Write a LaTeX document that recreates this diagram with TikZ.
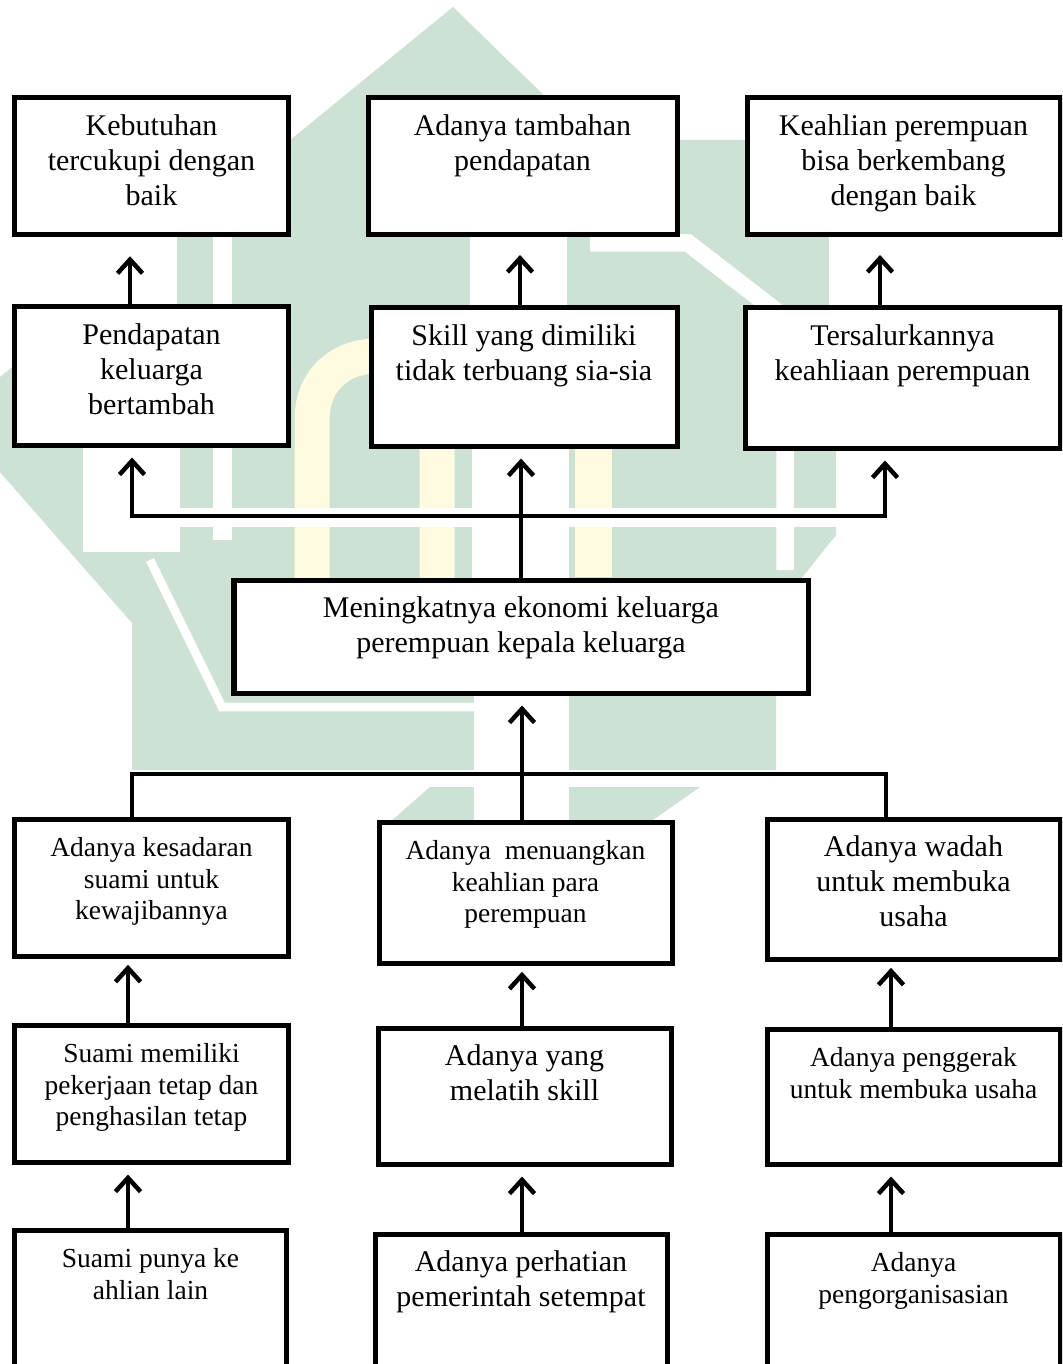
\documentclass[tikz,border=0pt]{standalone}
\usepackage{fontspec}
\setmainfont{Liberation Serif}
\usetikzlibrary{arrows.meta}
\definecolor{wmgreen}{RGB}{205,225,213}
\definecolor{wmyellow}{RGB}{255,251,224}
\newcommand{\isi}[3]{\parbox[c][#2][t]{#1}{\centering\rule{0pt}{15pt}#3}}

\begin{document}
\begin{tikzpicture}[
    x=0.4pt, y=-0.4pt,
    treebox/.style={draw, line width=2pt, fill=white, inner sep=0pt,
        font=\fontsize{12}{14}\selectfont},
    treeboxs/.style={treebox, font=\fontsize{11}{12.6}\selectfont},
    uparrow/.style={line width=1.8pt, -{Straight Barb[length=5.5pt,width=10pt]},
        shorten >=4pt},
    joint/.style={line width=1.8pt}
]
\useasboundingbox (0,0) rectangle (1062,1364);
\clip (0,0) rectangle (1062,1364);
\fill[white] (0,0) rectangle (1062,1364);

% watermark
\fill[wmgreen] (453,7) -- (590,140) -- (836,140) -- (836,535) -- (776,610)
    -- (776,770) -- (132,770) -- (132,623) -- (0,472) -- (0,377) -- cycle;
\fill[wmgreen] (430,787) -- (700,787) -- (650,822) -- (390,822) -- cycle;
\draw[white, line width=7.6pt] (222,233) -- (222,540);
\draw[white, line width=7pt] (590,243) -- (688,243) -- (785,318) -- (785,570);
\draw[white, line width=3.5pt] (150,560) -- (222,707) -- (474,707);
\draw[wmyellow, line width=14pt] (312,578) -- (312,420)
    .. controls (312,335) and (437,335) .. (437,420) -- (437,578);
\fill[wmyellow] (575,447) rectangle (612,577);

% white behind the arrows
\fill[white] (81,235) rectangle (177,307);
\fill[white] (470,235) rectangle (567,308);
\fill[white] (829,235) rectangle (924,308);
\fill[white] (83,445) rectangle (180,552);
\fill[white] (83,508) rectangle (900,527);
\fill[white] (472,446) rectangle (569,580);
\fill[white] (474,693) rectangle (569,822);
\fill[white] (132,770) rectangle (776,787);

% top rows
\node[treebox] (A1) at (151.5,166.5) {\isi{109.2pt}{54.8pt}{Kebutuhan\\tercukupi dengan\\baik}};
\node[treebox] (A2) at (522.5,166.5) {\isi{123.6pt}{54.8pt}{Adanya tambahan\\pendapatan}};
\node[treebox] (A3) at (903.5,166.5) {\isi{125.2pt}{54.8pt}{Keahlian perempuan\\bisa berkembang\\dengan baik}};
\node[treebox] (B1) at (151.5,376) {\isi{109.2pt}{55.2pt}{Pendapatan\\keluarga\\bertambah}};
\node[treebox] (B2) at (524,377) {\isi{122.4pt}{55.2pt}{Skill yang dimiliki\\tidak terbuang sia-sia}};
\node[treebox] (B3) at (902.5,378) {\isi{126pt}{56pt}{Tersalurkannya\\keahliaan perempuan}};

% centre
\node[treebox] (C) at (521,636.5) {\isi{229.6pt}{45.2pt}{Meningkatnya ekonomi keluarga\\perempuan kepala keluarga}};

% bottom rows
\node[treeboxs] (D1) at (151.5,887.5) {\isi{109.2pt}{54.8pt}{Adanya kesadaran\\suami untuk\\kewajibannya}};
\node[treeboxs] (D2) at (525.5,892.5) {\isi{117.2pt}{56.4pt}{Adanya~ menuangkan\\keahlian para\\perempuan}};
\node[treebox] (D3) at (913.5,889) {\isi{117.2pt}{56pt}{Adanya wadah\\untuk membuka\\usaha}};
\node[treeboxs] (E1) at (151.5,1093.5) {\isi{109.2pt}{54.8pt}{Suami memiliki\\pekerjaan tetap dan\\penghasilan tetap}};
\node[treebox] (E2) at (524.5,1096) {\isi{117.2pt}{54.4pt}{Adanya yang\\melatih skill}};
\node[treeboxs] (E3) at (913.5,1096.5) {\isi{117.2pt}{54pt}{Adanya penggerak\\untuk membuka usaha}};
\node[treeboxs] (F1) at (150.5,1298.5) {\isi{108.4pt}{54.8pt}{Suami punya ke\\ahlian lain}};
\node[treebox] (F2) at (521,1302.5) {\isi{116.8pt}{54.8pt}{Adanya perhatian\\pemerintah setempat}};
\node[treeboxs] (F3) at (913.5,1302.5) {\isi{117.2pt}{54.8pt}{Adanya\\pengorganisasian}};

% upper arrows
\coordinate (xa) at (130,0);
\coordinate (xb) at (520,0);
\coordinate (xc) at (880,0);
\draw[uparrow, shorten >=7.5pt] (B1.north -| xa) -- (A1.south -| xa);
\draw[uparrow, shorten >=7pt] (B2.north -| xb) -- (A2.south -| xb);
\draw[uparrow, shorten >=7pt] (B3.north -| xc) -- (A3.south -| xc);

\coordinate (forkT) at (521,516);
\coordinate (forkTL) at (132,516);
\coordinate (forkTR) at (885,516);
\draw[uparrow] (forkT) -- (forkTL) -- (B1.south -| forkTL);
\draw[uparrow] (forkT) -- (forkTR) -- (B3.south -| forkTR);
\draw[uparrow] (C.north) -- (C.north |- B2.south);

% lower fork
\coordinate (forkB) at (522,774);
\coordinate (forkBL) at (132,774);
\coordinate (forkBR) at (886,774);
\draw[joint] (forkB) -- (forkBL) -- (D1.north -| forkBL);
\draw[joint] (forkB) -- (forkBR) -- (D3.north -| forkBR);
\draw[uparrow] (D2.north -| forkB) -- (C.south -| forkB);

% lower arrows
\coordinate (xd) at (128,0);
\coordinate (xe) at (522,0);
\coordinate (xf) at (891,0);
\draw[uparrow, shorten >=2.5pt] (E1.north -| xd) -- (D1.south -| xd);
\draw[uparrow, shorten >=2.5pt] (E2.north -| xe) -- (D2.south -| xe);
\draw[uparrow, shorten >=2.5pt] (E3.north -| xf) -- (D3.south -| xf);
\draw[uparrow] (F1.north -| xd) -- (E1.south -| xd);
\draw[uparrow] (F2.north -| xe) -- (E2.south -| xe);
\draw[uparrow] (F3.north -| xf) -- (E3.south -| xf);
\end{tikzpicture}
\end{document}
